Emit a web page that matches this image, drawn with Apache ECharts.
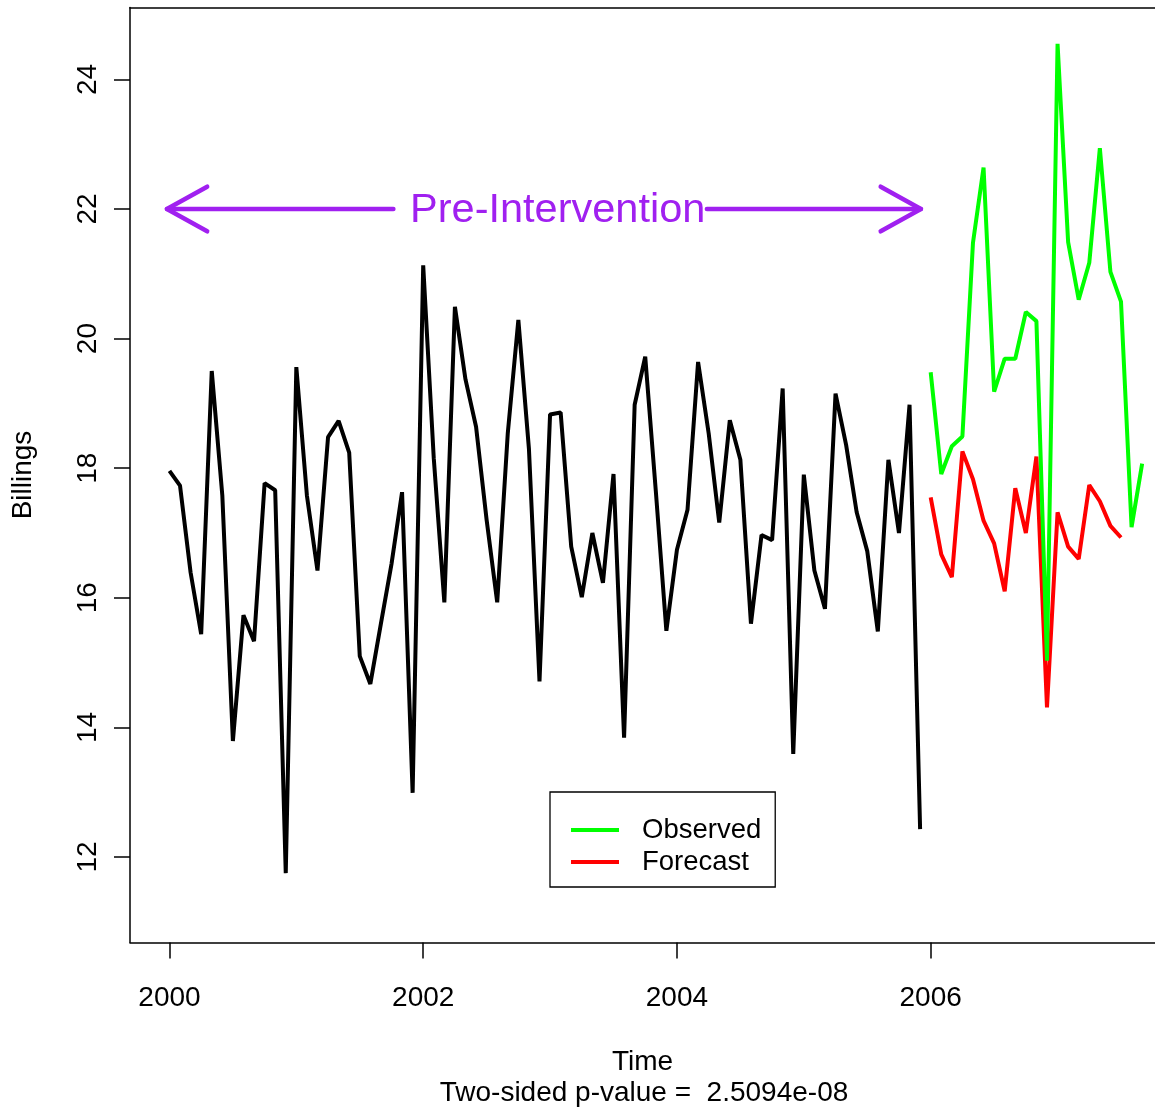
<!DOCTYPE html>
<html>
<head>
<meta charset="utf-8">
<script src="https://cdn.jsdelivr.net/npm/echarts@6/dist/echarts.min.js"></script>
<style>
  html, body { margin: 0; padding: 0; background: #fff; }
  #chart { width: 1155px; height: 1110px; }
</style>
</head>
<body>
<div id="chart"></div>
<script>
// ---- data (monthly series, start year 2000 for pre-intervention, 2006 for post) ----
const preStart = 2000;
const postStart = 2006;
const preValues = [
  17.96, 17.73, 16.39, 15.44, 19.50, 17.58, 13.79, 15.73, 15.33, 17.77, 17.66, 11.75,
  19.56, 17.58, 16.42, 18.48, 18.73, 18.24, 15.10, 14.67, 15.60, 16.52, 17.63, 12.99,
  21.13, 18.15, 15.93, 20.49, 19.37, 18.64, 17.20, 15.93, 18.54, 20.29, 18.30, 14.71,
  18.83, 18.86, 16.79, 16.01, 17.00, 16.23, 17.91, 13.84, 18.98, 19.72, 17.65, 15.49,
  16.74, 17.36, 19.64, 18.54, 17.16, 18.74, 18.13, 15.60, 16.97, 16.89, 19.23, 13.59,
  17.90, 16.42, 15.83, 19.15, 18.36, 17.32, 16.72, 15.48, 18.13, 17.00, 18.98, 12.43
];
const observedValues = [
  19.48, 17.91, 18.34, 18.49, 21.48, 22.64, 19.18, 19.69, 19.69, 20.41, 20.27, 15.03,
  24.55, 21.49, 20.60, 21.17, 22.94, 21.03, 20.57, 17.09, 18.07
];
const forecastValues = [
  17.55, 16.67, 16.32, 18.26, 17.83, 17.19, 16.84, 16.10, 17.69, 17.00, 18.18, 14.31,
  17.32, 16.79, 16.60, 17.74, 17.49, 17.11, 16.93
];
const xTicks = [2000, 2002, 2004, 2006];
const yTicks = [12, 14, 16, 18, 20, 22, 24];
const seriesNames = ['Observed', 'Forecast'];
// annotation: arrows [tip x, tail x, y] and label [x, y]
const arrowSegments = [[1999.98, 2001.765, 22], [2005.923, 2004.236, 22]];
const annotationLabel = [[2003.06, 22]];
const annotationText = 'Pre-Intervention';
const subtitleText = 'Two-sided p-value =  2.5094e-08';

function toMonthly(start, vals) {
  return vals.map((v, i) => [start + i / 12, v]);
}

const FONT = 'Liberation Sans, Arial, Helvetica, sans-serif';
const PURPLE = '#A020F0';
const X_MIN = 1999.689, X_MAX = 2007.768;

const chart = echarts.init(document.getElementById('chart'), null, { renderer: 'canvas' });

const option = {
  animation: false,
  backgroundColor: '#ffffff',
  textStyle: { fontFamily: FONT },
  grid: {
    left: 130, top: 7.5, right: 0, bottom: 167.5, show: false
  },
  xAxis: [{
    type: 'value',
    min: X_MIN, max: X_MAX,
    name: 'Time', nameLocation: 'middle', nameGap: 106,
    nameTextStyle: { fontSize: 28, color: '#000', fontFamily: FONT },
    axisLine: { show: true, onZero: false, lineStyle: { color: '#000', width: 1.5 } },
    axisTick: { show: true, inside: false, length: 16, customValues: xTicks, lineStyle: { color: '#000', width: 1.5 } },
    axisLabel: { customValues: xTicks, fontSize: 28, color: '#000', margin: 42, fontFamily: FONT,
      formatter: function (v) { return String(v); } },
    splitLine: { show: false }
  }, {
    type: 'value', position: 'top',
    min: X_MIN, max: X_MAX,
    axisLine: { show: true, onZero: false, lineStyle: { color: '#000', width: 1.5 } },
    axisTick: { show: false }, axisLabel: { show: false }, splitLine: { show: false }
  }],
  yAxis: {
    type: 'value',
    min: 10.68, max: 25.11,
    name: 'Billings', nameLocation: 'middle', nameGap: 93, nameRotate: 90,
    nameTextStyle: { fontSize: 28, color: '#000', fontFamily: FONT },
    axisLine: { show: true, onZero: false, lineStyle: { color: '#000', width: 1.5 } },
    axisTick: { show: true, inside: false, length: 16, customValues: yTicks, lineStyle: { color: '#000', width: 1.5 } },
    axisLabel: { customValues: yTicks, fontSize: 28, color: '#000', margin: 28, rotate: 90, fontFamily: FONT },
    splitLine: { show: false }
  },
  legend: {
    data: seriesNames,
    orient: 'vertical',
    left: 550, top: 792,
    icon: 'rect', itemWidth: 48, itemHeight: 4, itemGap: 2,
    padding: [23, 14, 10, 21],
    borderColor: '#000', borderWidth: 1.3, borderRadius: 0,
    backgroundColor: '#fff',
    textStyle: { fontSize: 27.5, color: '#000', lineHeight: 30, padding: [0, 0, 0, 18], fontFamily: FONT },
    selectedMode: false
  },
  graphic: [{
    type: 'text', x: 644, y: 1093,
    style: { text: subtitleText, fontSize: 28, fill: '#000', align: 'center', verticalAlign: 'middle', fontFamily: FONT }
  }],
  series: [
    {
      name: 'Pre', type: 'line', data: toMonthly(preStart, preValues),
      showSymbol: false, lineStyle: { color: '#000', width: 4 }, itemStyle: { color: '#000' }, z: 3
    },
    {
      name: 'Forecast', type: 'line', data: toMonthly(postStart, forecastValues),
      showSymbol: false, lineStyle: { color: '#FF0000', width: 4 }, itemStyle: { color: '#FF0000' }, z: 3
    },
    {
      name: 'Observed', type: 'line', data: toMonthly(postStart, observedValues),
      showSymbol: false, lineStyle: { color: '#00FF00', width: 4 }, itemStyle: { color: '#00FF00' }, z: 4
    },
    {
      name: 'arrows', type: 'custom', data: arrowSegments, encode: { x: [0, 1], y: 2 }, z: 5,
      renderItem: function (params, api) {
        const tip = api.coord([api.value(0), api.value(2)]);
        const tail = api.coord([api.value(1), api.value(2)]);
        const dir = tail[0] > tip[0] ? 1 : -1;
        const L = 46, ang = 29 * Math.PI / 180;
        const dx = L * Math.cos(ang) * dir, dy = L * Math.sin(ang);
        const st = { stroke: PURPLE, lineWidth: 4.5, lineCap: 'round', lineJoin: 'round', fill: null };
        return {
          type: 'group',
          children: [
            { type: 'line', shape: { x1: tip[0], y1: tip[1], x2: tail[0], y2: tail[1] }, style: st },
            { type: 'polyline', shape: { points: [[tip[0] + dx, tip[1] - dy], [tip[0], tip[1]], [tip[0] + dx, tip[1] + dy]] }, style: st }
          ]
        };
      }
    },
    {
      name: 'label', type: 'custom', data: annotationLabel, encode: { x: 0, y: 1 }, z: 5,
      renderItem: function (params, api) {
        const p = api.coord([api.value(0), api.value(1)]);
        return {
          type: 'text', x: p[0], y: p[1] + 2,
          style: { text: annotationText, fontSize: 41.5, fill: PURPLE, align: 'center', verticalAlign: 'middle', fontFamily: FONT }
        };
      }
    }
  ]
};

chart.setOption(option);
</script>
</body>
</html>
